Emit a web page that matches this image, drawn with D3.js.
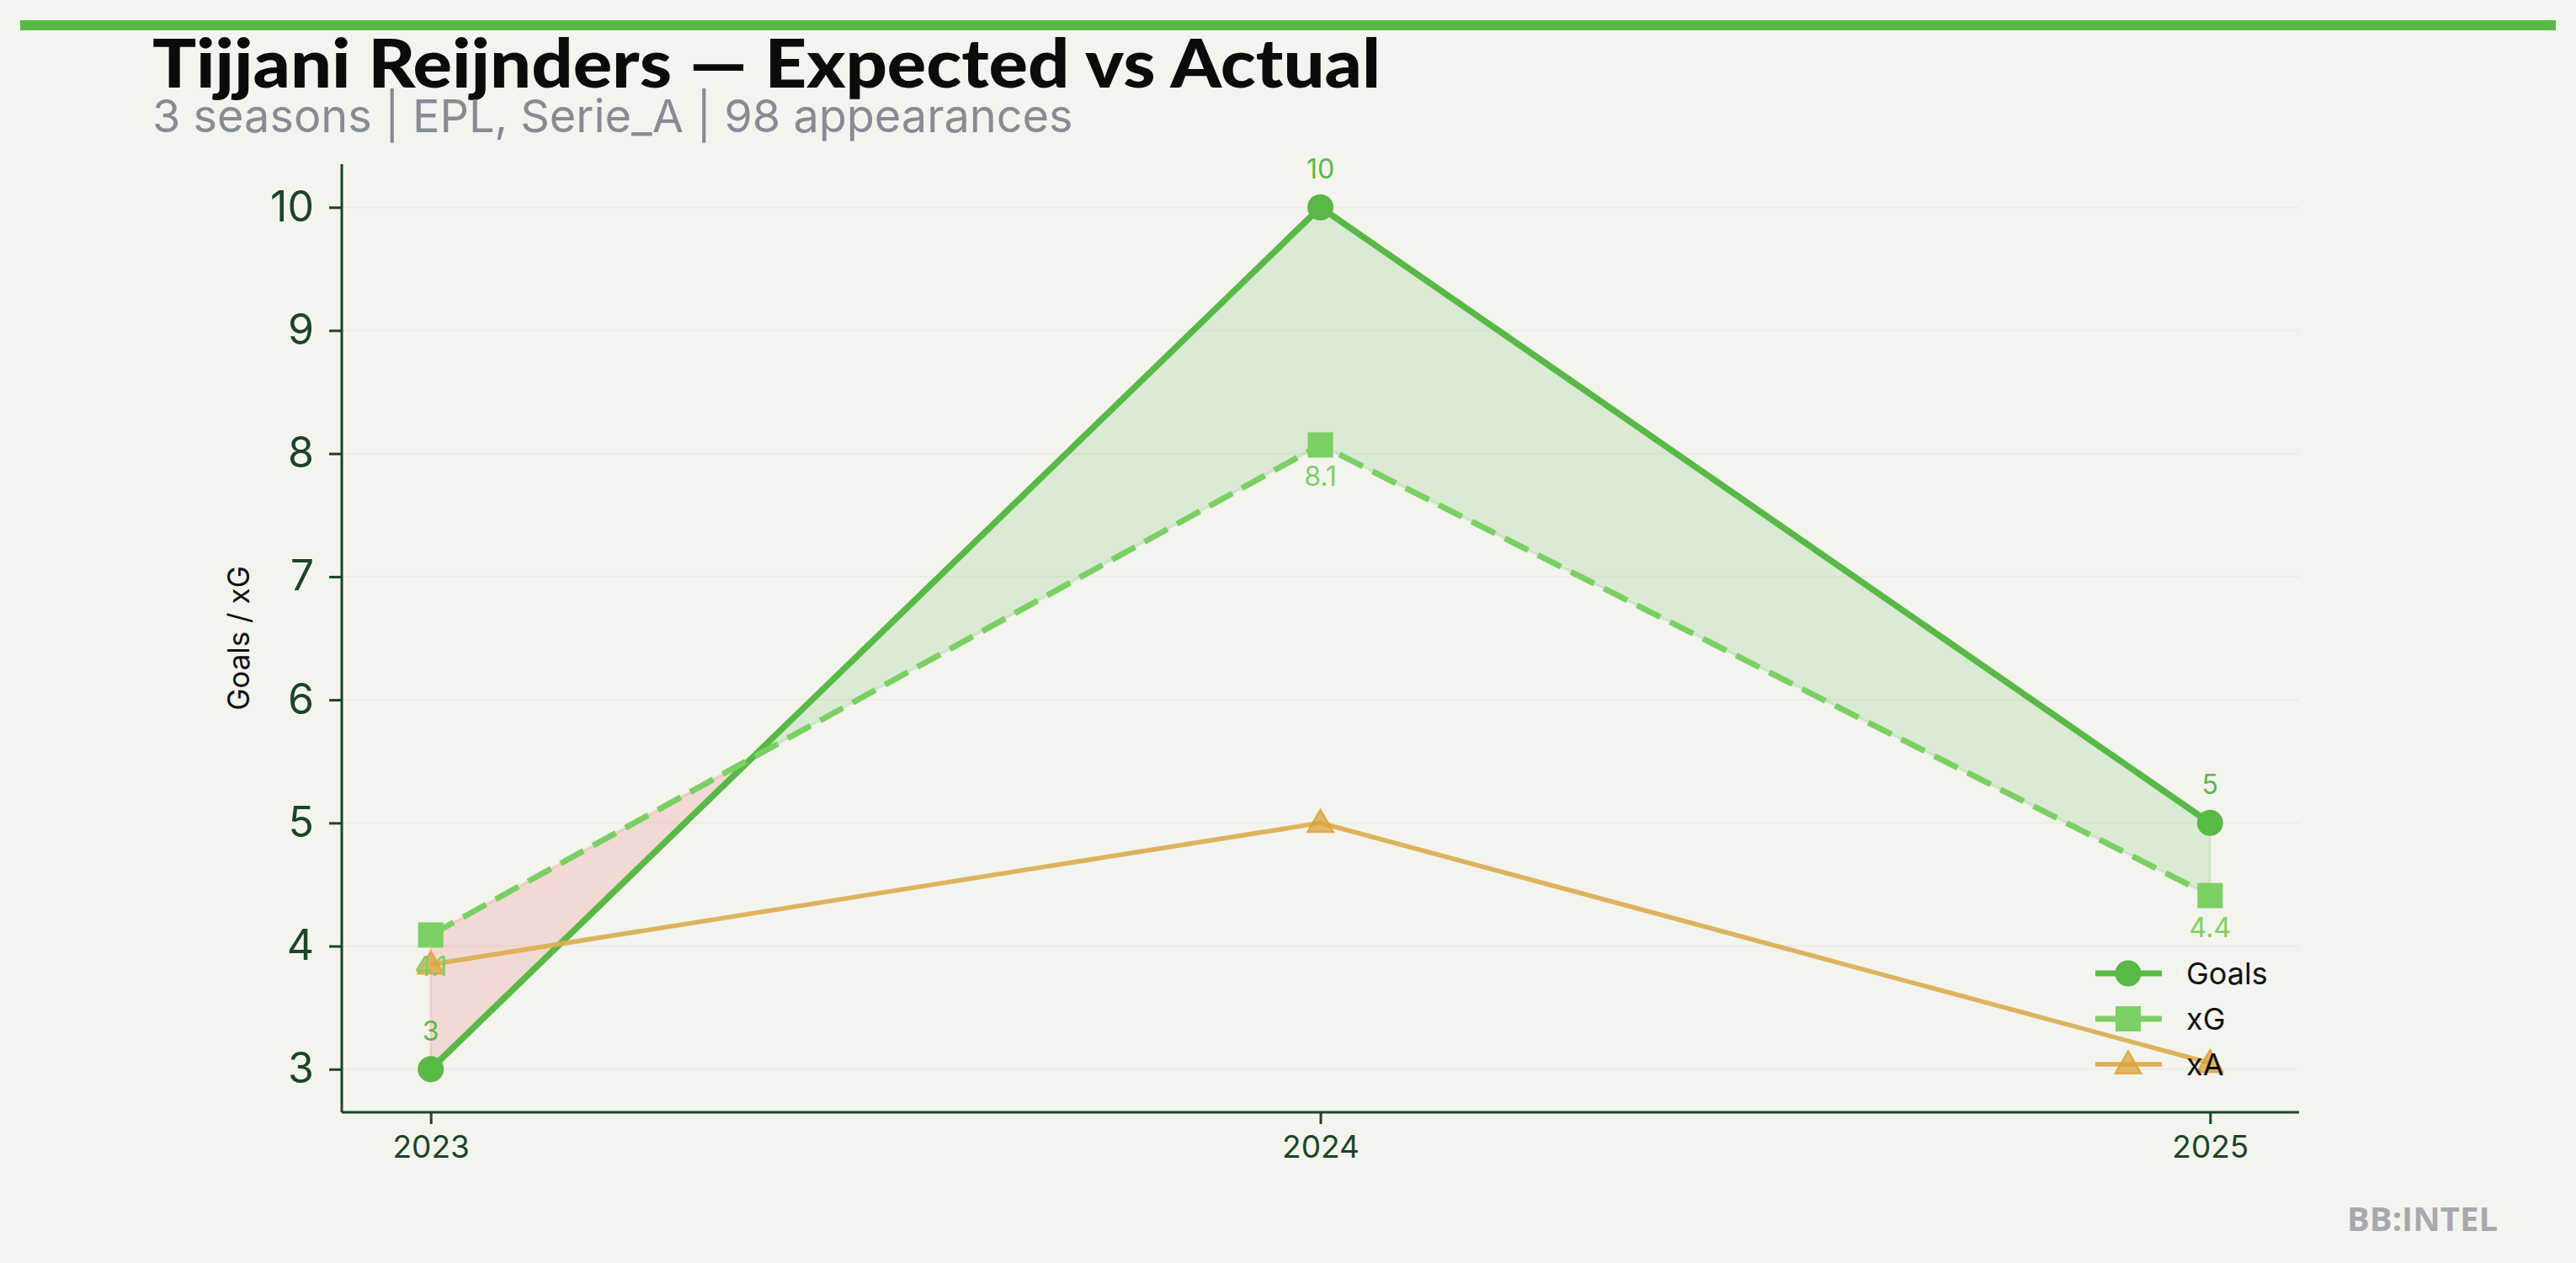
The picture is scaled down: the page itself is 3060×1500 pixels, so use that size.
<!DOCTYPE html>
<html><head><meta charset="utf-8">
<script src="https://cdn.jsdelivr.net/npm/d3@7"></script>
<style>
html,body{margin:0;padding:0;background:#f4f4ef;}
svg{display:block;}
</style></head>
<body>
<svg id="chart" width="3060" height="1500"></svg>
<script>
const seasons = [2023, 2024, 2025];
const goals = [3, 10, 5];
const xg = [4.09, 8.07, 4.41];
const xa = [3.85, 5.0, 3.05];
const yTicks = [3, 4, 5, 6, 7, 8, 9, 10];
const titleText = "Tijjani Reijnders \u2014 Expected vs Actual";
const subtitleText = "3 seasons | EPL, Serie_A | 98 appearances";
const seriesNames = ["Goals", "xG", "xA"];

const C = {
  bg: "#f4f4ef", axis: "#1b4524", goals: "#58b947", xg: "#7bd064", xa: "#dcaf55",
  xaMark: "#d9a43c", greenFill: "rgba(88,185,71,0.16)", redFill: "rgba(232,90,70,0.16)",
  grid: "#ebece5"
};

const svg = d3.select("#chart");
svg.append("rect").attr("width", 3060).attr("height", 1500).attr("fill", C.bg);
svg.append("rect").attr("x", 24).attr("y", 24).attr("width", 3012).attr("height", 12).attr("fill", C.goals);

svg.append("text").attr("x", 181).attr("y", 104)
  .attr("font-family", "Lato").attr("font-weight", 900).attr("font-size", 80)
  .attr("textLength", 1459).attr("lengthAdjust", "spacingAndGlyphs")
  .attr("fill", "#0b0b0b").text(titleText);
svg.append("text").attr("x", 181).attr("y", 157)
  .attr("font-family", "Inter").attr("font-size", 54)
  .attr("fill", "#878b94").text(subtitleText);

const x = d3.scaleLinear().domain([2022.9, 2025.1]).range([406, 2731]);
const y = d3.scaleLinear().domain([2.65, 10.35]).range([1321, 195]);

// grid
svg.append("g").selectAll("line").data(yTicks).join("line")
  .attr("x1", 406).attr("x2", 2731).attr("y1", d => y(d)).attr("y2", d => y(d))
  .attr("stroke", C.grid).attr("stroke-width", 2);

// fill between goals and xG
const pts = [];
for (let i = 0; i < seasons.length; i++) {
  pts.push({x: seasons[i], g: goals[i], e: xg[i]});
  if (i < seasons.length - 1) {
    const d0 = goals[i] - xg[i], d1 = goals[i + 1] - xg[i + 1];
    if (d0 * d1 < 0) {
      const t = d0 / (d0 - d1);
      const xc = seasons[i] + t * (seasons[i + 1] - seasons[i]);
      const vc = goals[i] + t * (goals[i + 1] - goals[i]);
      pts.push({x: xc, g: vc, e: vc, cross: true});
    }
  }
}
const runs = [];
let cur = [pts[0]];
for (let i = 1; i < pts.length; i++) {
  cur.push(pts[i]);
  if (pts[i].cross) { runs.push(cur); cur = [pts[i]]; }
}
runs.push(cur);
const area = d3.area().x(d => x(d.x)).y0(d => y(d.e)).y1(d => y(d.g));
runs.forEach(r => {
  const s = d3.sum(r, d => d.g - d.e);
  const col = s >= 0 ? C.greenFill : C.redFill;
  svg.append("path").attr("d", area(r)).attr("fill", col)
    .attr("stroke", col).attr("stroke-width", 3);
});

// axes
const yAxis = d3.axisLeft(y).tickValues(yTicks).tickSize(15).tickPadding(18).tickFormat(d3.format("d"));
const gy = svg.append("g").attr("transform", "translate(406,0)").call(yAxis);
gy.select(".domain").attr("d", "M0,195V1321").attr("stroke", C.axis).attr("stroke-width", 3);
gy.selectAll(".tick line").attr("stroke", C.axis).attr("stroke-width", 3);
gy.selectAll(".tick text").attr("fill", C.axis).attr("font-family", "Inter").attr("font-size", 50);

const xAxis = d3.axisBottom(x).tickValues(seasons).tickSize(14).tickPadding(14).tickFormat(d3.format("d"));
const gx = svg.append("g").attr("transform", "translate(0,1321)").call(xAxis);
gx.select(".domain").attr("d", "M406,0H2731").attr("stroke", C.axis).attr("stroke-width", 3);
gx.selectAll(".tick line").attr("stroke", C.axis).attr("stroke-width", 3);
gx.selectAll(".tick text").attr("fill", C.axis).attr("font-family", "Inter").attr("font-size", 37);

svg.append("text").attr("transform", "translate(296,758) rotate(-90)")
  .attr("text-anchor", "middle").attr("font-family", "Inter").attr("font-size", 35)
  .attr("fill", "#111").text("Goals / xG");

const line = d3.line().x(d => x(d[0])).y(d => y(d[1]));
const zip = arr => seasons.map((s, i) => [s, arr[i]]);

// Goals
svg.append("path").attr("d", line(zip(goals))).attr("fill", "none")
  .attr("stroke", C.goals).attr("stroke-width", 7.5).attr("stroke-linejoin", "round");
svg.append("g").selectAll("circle").data(zip(goals)).join("circle")
  .attr("cx", d => x(d[0])).attr("cy", d => y(d[1])).attr("r", 15.5).attr("fill", C.goals);

// xG
svg.append("path").attr("d", line(zip(xg))).attr("fill", "none")
  .attr("stroke", C.xg).attr("stroke-width", 7).attr("stroke-dasharray", "31,13");
svg.append("g").selectAll("rect").data(zip(xg)).join("rect")
  .attr("x", d => x(d[0]) - 15).attr("y", d => y(d[1]) - 15)
  .attr("width", 30).attr("height", 30).attr("fill", C.xg);

// xA
svg.append("path").attr("d", line(zip(xa))).attr("fill", "none")
  .attr("stroke", C.xa).attr("stroke-width", 5.5).attr("stroke-opacity", 0.95);
const tri = d3.symbol().type(d3.symbolTriangle).size(400);
svg.append("g").selectAll("path").data(zip(xa)).join("path")
  .attr("transform", d => `translate(${x(d[0])},${y(d[1]) + 2})`)
  .attr("d", tri()).attr("fill", C.xaMark).attr("fill-opacity", 0.75)
  .attr("stroke", C.xaMark).attr("stroke-opacity", 0.85).attr("stroke-width", 2.5);

// value labels
svg.append("g").selectAll("text").data(zip(goals)).join("text")
  .attr("x", d => x(d[0])).attr("y", d => y(d[1]) - 34).attr("text-anchor", "middle")
  .attr("font-family", "Inter").attr("font-size", 32).attr("fill", C.goals)
  .text(d => d3.format("d")(d[1]));
svg.append("g").selectAll("text").data(zip(xg)).join("text")
  .attr("x", d => x(d[0])).attr("y", d => y(d[1]) + 49).attr("text-anchor", "middle")
  .attr("font-family", "Inter").attr("font-size", 32).attr("fill", C.xg)
  .text(d => d[1].toFixed(1));

// legend
const lg = svg.append("g");
const legY = [1156, 1210, 1264];
seriesNames.forEach((n, i) => {
  const yy = legY[i];
  const col = [C.goals, C.xg, C.xa][i];
  lg.append("line").attr("x1", 2489).attr("x2", 2568).attr("y1", yy).attr("y2", yy)
    .attr("stroke", col).attr("stroke-width", i === 2 ? 5.5 : 7);
  if (i === 0) lg.append("circle").attr("cx", 2528).attr("cy", yy).attr("r", 15.5).attr("fill", C.goals);
  if (i === 1) lg.append("rect").attr("x", 2513).attr("y", yy - 15).attr("width", 30).attr("height", 30).attr("fill", C.xg);
  if (i === 2) lg.append("path").attr("transform", `translate(2528,${yy + 2})`).attr("d", tri())
    .attr("fill", C.xaMark).attr("fill-opacity", 0.75).attr("stroke", C.xaMark).attr("stroke-opacity", 0.85).attr("stroke-width", 2.5);
  lg.append("text").attr("x", 2597).attr("y", yy).attr("dy", "0.35em")
    .attr("font-family", "Inter").attr("font-size", 36).attr("fill", "#111").text(n);
});

svg.append("text").attr("x", 2967).attr("y", 1462).attr("text-anchor", "end")
  .attr("font-family", "Open Sans").attr("font-weight", 700).attr("font-size", 40)
  .attr("fill", "#a6a9ae").text("BB:INTEL");
</script>
</body></html>
